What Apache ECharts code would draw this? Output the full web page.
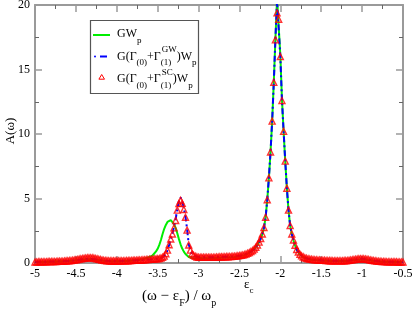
<!DOCTYPE html>
<html><head><meta charset="utf-8">
<script src="https://cdn.jsdelivr.net/npm/echarts@6/dist/echarts.min.js"></script>
<style>html,body{margin:0;padding:0;background:#fff}#c{width:415px;height:311px}</style>
</head><body><div id="c"></div>
<script>
// omega grid (x values)
const omega = [
-5.00,-4.98,-4.96,-4.94,-4.92,-4.90,-4.88,-4.86,-4.84,-4.82,
-4.80,-4.78,-4.76,-4.74,-4.72,-4.70,-4.68,-4.66,-4.64,-4.62,
-4.60,-4.58,-4.56,-4.54,-4.52,-4.50,-4.48,-4.46,-4.44,-4.42,
-4.40,-4.38,-4.36,-4.34,-4.32,-4.30,-4.28,-4.26,-4.24,-4.22,
-4.20,-4.18,-4.16,-4.14,-4.12,-4.10,-4.08,-4.06,-4.04,-4.02,
-4.00,-3.98,-3.96,-3.94,-3.92,-3.90,-3.88,-3.86,-3.84,-3.82,
-3.80,-3.78,-3.76,-3.74,-3.72,-3.70,-3.68,-3.66,-3.64,-3.62,
-3.60,-3.58,-3.56,-3.54,-3.52,-3.50,-3.48,-3.46,-3.44,-3.42,
-3.40,-3.38,-3.36,-3.34,-3.32,-3.30,-3.28,-3.26,-3.24,-3.22,
-3.20,-3.18,-3.16,-3.14,-3.12,-3.10,-3.08,-3.06,-3.04,-3.02,
-3.00,-2.98,-2.96,-2.94,-2.92,-2.90,-2.88,-2.86,-2.84,-2.82,
-2.80,-2.78,-2.76,-2.74,-2.72,-2.70,-2.68,-2.66,-2.64,-2.62,
-2.60,-2.58,-2.56,-2.54,-2.52,-2.50,-2.48,-2.46,-2.44,-2.42,
-2.40,-2.38,-2.36,-2.34,-2.32,-2.30,-2.28,-2.26,-2.24,-2.22,
-2.20,-2.18,-2.16,-2.14,-2.12,-2.10,-2.08,-2.06,-2.04,-2.02,
-2.00,-1.98,-1.96,-1.94,-1.92,-1.90,-1.88,-1.86,-1.84,-1.82,
-1.80,-1.78,-1.76,-1.74,-1.72,-1.70,-1.68,-1.66,-1.64,-1.62,
-1.60,-1.58,-1.56,-1.54,-1.52,-1.50,-1.48,-1.46,-1.44,-1.42,
-1.40,-1.38,-1.36,-1.34,-1.32,-1.30,-1.28,-1.26,-1.24,-1.22,
-1.20,-1.18,-1.16,-1.14,-1.12,-1.10,-1.08,-1.06,-1.04,-1.02,
-1.00,-0.98,-0.96,-0.94,-0.92,-0.90,-0.88,-0.86,-0.84,-0.82,
-0.80,-0.78,-0.76,-0.74,-0.72,-0.70,-0.68,-0.66,-0.64,-0.62,
-0.60,-0.58,-0.56,-0.54,-0.52,-0.50
];

// GW_p (green)
const aGW = [
0.07,0.07,0.08,0.08,0.08,0.09,0.09,0.09,0.10,0.10,
0.10,0.11,0.11,0.11,0.12,0.12,0.13,0.13,0.14,0.15,
0.15,0.16,0.17,0.18,0.19,0.21,0.22,0.24,0.25,0.27,
0.28,0.29,0.30,0.30,0.30,0.29,0.28,0.26,0.24,0.22,
0.20,0.18,0.17,0.16,0.15,0.14,0.14,0.13,0.13,0.13,
0.13,0.13,0.14,0.14,0.15,0.15,0.16,0.17,0.18,0.19,
0.20,0.21,0.22,0.24,0.26,0.28,0.31,0.34,0.37,0.41,
0.46,0.52,0.60,0.72,0.90,1.10,1.40,1.78,2.25,2.65,
2.95,3.18,3.31,3.32,3.22,3.02,2.72,2.30,1.85,1.45,
1.12,0.88,0.70,0.56,0.47,0.42,0.39,0.37,0.36,0.36,
0.36,0.36,0.36,0.36,0.36,0.37,0.37,0.37,0.37,0.37,
0.38,0.38,0.39,0.39,0.40,0.40,0.41,0.41,0.42,0.43,
0.44,0.45,0.46,0.47,0.49,0.51,0.54,0.57,0.61,0.66,
0.72,0.79,0.87,0.96,1.07,1.21,1.39,1.61,1.89,2.24,
2.74,3.54,4.88,6.58,8.58,11.0,14.0,17.4,20.5,20.5,
16.1,12.7,10.2,7.90,5.80,4.10,2.90,2.24,1.76,1.36,
1.03,0.83,0.66,0.53,0.45,0.39,0.35,0.31,0.28,0.26,
0.24,0.23,0.22,0.21,0.20,0.19,0.18,0.18,0.17,0.17,
0.16,0.16,0.15,0.15,0.15,0.15,0.15,0.15,0.15,0.16,
0.16,0.17,0.18,0.19,0.21,0.22,0.24,0.25,0.26,0.27,
0.27,0.26,0.25,0.23,0.21,0.19,0.18,0.16,0.15,0.13,
0.12,0.11,0.10,0.10,0.09,0.09,0.09,0.08,0.08,0.08,
0.08,0.08,0.07,0.07,0.07,0.07
];

// G(Γ(0)+Γ(1)^GW)W_p (blue)
const aGWvertex = [
0.08,0.08,0.09,0.09,0.09,0.10,0.10,0.10,0.11,0.11,
0.11,0.12,0.12,0.12,0.13,0.13,0.14,0.14,0.15,0.16,
0.16,0.17,0.18,0.19,0.20,0.22,0.23,0.25,0.27,0.29,
0.30,0.31,0.32,0.32,0.32,0.31,0.30,0.28,0.26,0.24,
0.22,0.20,0.19,0.18,0.17,0.16,0.16,0.16,0.16,0.16,
0.16,0.16,0.16,0.17,0.17,0.17,0.18,0.18,0.19,0.19,
0.20,0.21,0.21,0.22,0.22,0.23,0.24,0.25,0.26,0.27,
0.28,0.29,0.30,0.31,0.32,0.33,0.35,0.38,0.44,0.53,
0.70,0.98,1.40,1.85,2.28,2.80,3.40,4.20,4.80,5.08,
4.80,4.25,3.60,2.60,1.45,1.02,0.74,0.60,0.52,0.47,
0.45,0.45,0.45,0.45,0.45,0.45,0.45,0.45,0.45,0.45,
0.45,0.46,0.46,0.47,0.47,0.48,0.48,0.49,0.49,0.50,
0.50,0.51,0.52,0.53,0.55,0.57,0.59,0.62,0.66,0.70,
0.75,0.81,0.88,0.97,1.08,1.22,1.40,1.62,1.90,2.25,
2.75,3.55,4.90,6.60,8.60,11.0,14.0,17.4,20.3,20.3,
16.0,12.6,10.2,7.90,5.80,4.10,2.90,2.25,1.78,1.38,
1.05,0.85,0.68,0.55,0.47,0.41,0.37,0.33,0.30,0.28,
0.26,0.25,0.24,0.23,0.22,0.21,0.20,0.20,0.19,0.19,
0.18,0.18,0.17,0.17,0.17,0.17,0.17,0.17,0.17,0.18,
0.18,0.19,0.20,0.22,0.24,0.26,0.28,0.30,0.32,0.33,
0.33,0.32,0.30,0.28,0.26,0.23,0.21,0.19,0.17,0.15,
0.14,0.13,0.12,0.11,0.11,0.10,0.10,0.10,0.09,0.09,
0.09,0.09,0.08,0.08,0.08,0.08
];

// G(Γ(0)+Γ(1)^SC)W_p (red triangles)
const aSC = [
0.08,0.08,0.09,0.09,0.09,0.10,0.10,0.10,0.11,0.11,
0.11,0.12,0.12,0.12,0.13,0.13,0.14,0.14,0.15,0.16,
0.17,0.18,0.19,0.21,0.23,0.25,0.27,0.30,0.32,0.35,
0.37,0.39,0.40,0.41,0.41,0.40,0.38,0.35,0.32,0.29,
0.26,0.23,0.21,0.19,0.18,0.17,0.16,0.16,0.16,0.16,
0.16,0.16,0.16,0.17,0.17,0.17,0.18,0.18,0.19,0.19,
0.20,0.21,0.21,0.22,0.22,0.23,0.24,0.25,0.26,0.27,
0.28,0.29,0.30,0.31,0.32,0.33,0.35,0.38,0.44,0.53,
0.72,1.00,1.42,1.86,2.25,2.72,3.30,4.10,4.60,4.85,
4.62,4.15,3.55,2.55,1.40,1.00,0.72,0.60,0.52,0.47,
0.45,0.45,0.45,0.45,0.45,0.45,0.45,0.45,0.45,0.45,
0.45,0.46,0.46,0.47,0.47,0.48,0.48,0.49,0.49,0.50,
0.50,0.51,0.52,0.53,0.55,0.57,0.59,0.62,0.66,0.70,
0.75,0.81,0.88,0.97,1.08,1.22,1.40,1.62,1.90,2.25,
2.75,3.55,4.90,6.60,8.60,11.0,14.0,17.3,19.4,18.9,
16.0,12.6,10.2,7.90,5.80,4.10,2.90,2.25,1.78,1.38,
1.05,0.85,0.68,0.55,0.47,0.41,0.37,0.33,0.30,0.28,
0.26,0.25,0.24,0.23,0.22,0.21,0.20,0.20,0.19,0.19,
0.18,0.18,0.17,0.17,0.17,0.17,0.17,0.17,0.17,0.18,
0.18,0.19,0.20,0.22,0.24,0.26,0.28,0.30,0.32,0.33,
0.33,0.32,0.30,0.28,0.26,0.23,0.21,0.19,0.17,0.15,
0.14,0.13,0.12,0.11,0.11,0.10,0.10,0.10,0.09,0.09,
0.09,0.09,0.08,0.08,0.08,0.08
];

const seriesNames = ['GWp', 'G(Γ(0)+Γ(1)GW)Wp', 'G(Γ(0)+Γ(1)SC)Wp'];

const F = 'Liberation Serif';
const frameColor = '#9a9a9a';
const chart = echarts.init(document.getElementById('c'), null, {renderer: 'canvas'});

function xAx(pos, showLabels) {
  return {
    type: 'value', position: pos, min: -5, max: -0.5, interval: 0.5,
    axisLine: {show: true, onZero: false, lineStyle: {color: frameColor, width: 2}},
    axisTick: {show: true, inside: true, length: 7, lineStyle: {color: frameColor, width: 1.5}},
    minorTick: {show: true, splitNumber: 2, length: 4, lineStyle: {color: '#666', width: 1}},
    splitLine: {show: false}, minorSplitLine: {show: false},
    axisLabel: {show: showLabels, color: '#000', fontFamily: F, fontSize: 12, margin: 5}
  };
}
function yAx(pos, showLabels) {
  return {
    type: 'value', position: pos, min: 0, max: 20, interval: 5,
    axisLine: {show: true, onZero: false, lineStyle: {color: frameColor, width: 2}},
    axisTick: {show: true, inside: true, length: 7, lineStyle: {color: frameColor, width: 1.5}},
    minorTick: {show: true, splitNumber: 2, length: 4, lineStyle: {color: '#666', width: 1}},
    splitLine: {show: false}, minorSplitLine: {show: false},
    axisLabel: {show: showLabels, color: '#000', fontFamily: F, fontSize: 12, margin: 5}
  };
}

const rich = {
  m: {fontFamily: F, fontSize: 12, lineHeight: 22, verticalAlign: 'middle', fill: '#000'},
  sb: {fontFamily: F, fontSize: 9, lineHeight: 14, verticalAlign: 'bottom', fill: '#000'},
  sbz: {fontFamily: F, fontSize: 9, lineHeight: 14, verticalAlign: 'bottom', fill: '#000', width: 1, align: 'left'},
  sp: {fontFamily: F, fontSize: 9, lineHeight: 8, verticalAlign: 'top', fill: '#000'}
};
const richT = {
  m: {fontFamily: F, fontSize: 15, lineHeight: 24, verticalAlign: 'middle', fill: '#000'},
  sb: {fontFamily: F, fontSize: 10, lineHeight: 12, verticalAlign: 'bottom', fill: '#000'}
};
const richE = {
  m: {fontFamily: F, fontSize: 13, lineHeight: 20, verticalAlign: 'middle', fill: '#000'},
  sb: {fontFamily: F, fontSize: 9, lineHeight: 12, verticalAlign: 'bottom', fill: '#000'}
};

const option = {
  animation: false,
  backgroundColor: '#fff',
  grid: {left: 35, right: 12, top: 5, bottom: 48, containLabel: false, outerBoundsMode: 'none'},
  xAxis: [xAx('bottom', true), xAx('top', false)],
  yAxis: [yAx('left', true), yAx('right', false)],
  legend: {show: false},
  series: [
    {name: seriesNames[0], type: 'line', xAxisIndex: 0, yAxisIndex: 0, showSymbol: false,
     data: omega.map((x, i) => [x, aGW[i]]),
     lineStyle: {color: '#00ee00', width: 2}, itemStyle: {color: '#00ee00'}, z: 2},
    {name: seriesNames[1], type: 'line', xAxisIndex: 0, yAxisIndex: 0, showSymbol: false,
     data: omega.map((x, i) => [x, aGWvertex[i]]),
     lineStyle: {color: '#0000ff', width: 2, type: [6, 3, 2, 3]}, itemStyle: {color: '#0000ff'}, z: 3},
    {name: seriesNames[2], type: 'scatter', xAxisIndex: 0, yAxisIndex: 0,
     symbol: 'triangle', symbolSize: 6,
     data: omega.map((x, i) => [x, aSC[i]]),
     itemStyle: {color: 'rgba(255,255,255,0)', borderColor: '#ff0000', borderWidth: 1.4}, z: 4}
  ],
  graphic: [
    {type: 'rect', shape: {x: 90.5, y: 20.5, width: 108, height: 73}, style: {fill: '#fff', stroke: '#555', lineWidth: 1.2}, z: 10},
    {type: 'line', shape: {x1: 93, y1: 35, x2: 110, y2: 35}, style: {stroke: '#00ee00', lineWidth: 2}, z: 11},
    {type: 'circle', shape: {cx: 95, cy: 56.5, r: 1}, style: {fill: '#0000ff'}, z: 11},
    {type: 'line', shape: {x1: 100, y1: 56.5, x2: 107, y2: 56.5}, style: {stroke: '#0000ff', lineWidth: 2}, z: 11},
    {type: 'polygon', shape: {points: [[101.7, 74.5], [98.9, 79.2], [104.5, 79.2]]}, style: {fill: 'none', stroke: '#ff0000', lineWidth: 1}, z: 11},
    {type: 'text', x: 117, y: 34, z: 11, style: {text: '{m|GW}{sb|p}', rich: rich, align: 'left', verticalAlign: 'middle'}},
    {type: 'text', x: 117, y: 56.5, z: 11, style: {text: '{m|G(Γ}{sb|(0)}{m|+Γ}{sbz|(1)}{sp|GW}{m|)W}{sb|p}', rich: rich, align: 'left', verticalAlign: 'middle'}},
    {type: 'text', x: 117, y: 79, z: 11, style: {text: '{m|G(Γ}{sb|(0)}{m|+Γ}{sbz|(1)}{sp|SC}{m|)W}{sb|p}', rich: rich, align: 'left', verticalAlign: 'middle'}},
    {type: 'text', x: 11, y: 131, rotation: Math.PI / 2, z: 11, style: {text: 'A(ω)', fontFamily: F, fontSize: 13, fill: '#000', align: 'center', verticalAlign: 'middle'}},
    {type: 'text', x: 142, y: 296, z: 11, style: {text: '{m|(ω − ε}{sb|F}{m|) / ω}{sb|p}', rich: richT, align: 'left', verticalAlign: 'middle'}},
    {type: 'text', x: 244, y: 285, z: 11, style: {text: '{m|ε}{sb|c}', rich: richE, align: 'left', verticalAlign: 'middle'}}
  ]
};
chart.setOption(option);
</script>
</body></html>
